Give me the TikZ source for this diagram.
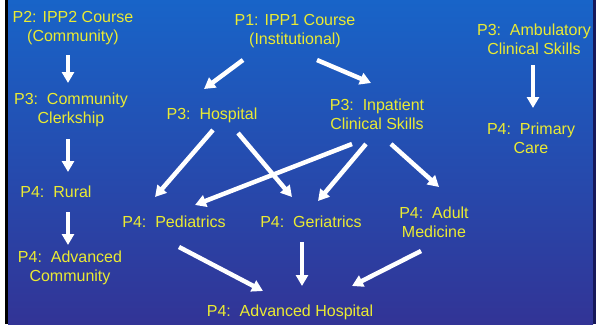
\documentclass[tikz,border=0pt]{standalone}
\usepackage{fontspec}
\setmainfont{Liberation Sans}
\usetikzlibrary{arrows.meta}
\definecolor{bgtop}{RGB}{24,100,200}
\definecolor{bgbot}{RGB}{50,52,150}
\definecolor{bgdark}{RGB}{22,24,90}
\definecolor{lbl}{RGB}{235,235,50}
\begin{document}
\begin{tikzpicture}[x=1pt,y=-1pt,
  lab/.style={text=lbl,font=\fontsize{16}{19}\selectfont,align=center,inner sep=0pt,anchor=base},
  arr/.style={white,line width=4.5pt,-{Triangle[width=12pt,length=11pt]}}]
\useasboundingbox (0,0) rectangle (596,324);
% frame and background
\fill[white] (0,0) rectangle (5,324);
\fill[black] (5,0) rectangle (8,324);
\shade[top color=bgtop,bottom color=bgbot] (8,0) rectangle (593,324);
\fill[bgdark] (593,0) rectangle (596,324);
% labels (two-line labels: base = last line)
\node[lab] (p2)   at (73,41)  {P2: IPP2 Course\\(Community)};
\node[lab] (cc)   at (71,123) {P3:~~Community\\Clerkship};
\node[lab] (rur)  at (56,197) {P4:~~Rural};
\node[lab] (ac)   at (70,281) {P4:~~Advanced\\Community};
\node[lab] (p1)   at (295,44) {P1: IPP1 Course\\(Institutional)};
\node[lab] (hosp) at (212,119) {P3:~~Hospital};
\node[lab] (inp)  at (377,129) {P3:~~Inpatient\\Clinical Skills};
\node[lab] (amb)  at (534,54) {P3:~~Ambulatory\\Clinical Skills};
\node[lab] (prim) at (531,153) {P4:~~Primary\\Care};
\node[lab] (ped)  at (174,227) {P4:~~Pediatrics};
\node[lab] (ger)  at (311,227) {P4:~~Geriatrics};
\node[lab] (adu)  at (434,237) {P4:~~Adult\\Medicine};
\node[lab] (ah)   at (290,316) {P4:~~Advanced Hospital};
% connector ends
\coordinate (p2-o)   at (68,55);   \coordinate (cc-i)  at (68,83);
\coordinate (cc-o)   at (68,139);  \coordinate (rur-i) at (68,172);
\coordinate (rur-o)  at (68,212);  \coordinate (ac-i)  at (68,245);
\coordinate (p1-o1)  at (243,60);  \coordinate (hosp-i) at (204,89);
\coordinate (p1-o2)  at (317,60);  \coordinate (inp-i)  at (371,83);
\coordinate (amb-o)  at (533,65);  \coordinate (prim-i) at (533,108);
\coordinate (hosp-o1) at (213,130); \coordinate (ped-i1) at (155,197);
\coordinate (hosp-o2) at (238,133); \coordinate (ger-i1) at (292,197);
\coordinate (inp-o1) at (352,144); \coordinate (ped-i2) at (195,205);
\coordinate (inp-o2) at (366,144); \coordinate (ger-i2) at (318,201);
\coordinate (inp-o3) at (391,144); \coordinate (adu-i)  at (439,187);
\coordinate (ped-o)  at (179,247); \coordinate (ah-i1)  at (263,291);
\coordinate (ger-o)  at (302,242); \coordinate (ah-i2)  at (302,286);
\coordinate (adu-o)  at (421,251); \coordinate (ah-i3)  at (352,286);
% connectors
\draw[arr] (p2-o) -- (cc-i);
\draw[arr] (cc-o) -- (rur-i);
\draw[arr] (rur-o) -- (ac-i);
\draw[arr] (p1-o1) -- (hosp-i);
\draw[arr] (p1-o2) -- (inp-i);
\draw[arr] (amb-o) -- (prim-i);
\draw[arr] (hosp-o1) -- (ped-i1);
\draw[arr] (hosp-o2) -- (ger-i1);
\draw[arr] (inp-o1) -- (ped-i2);
\draw[arr] (inp-o2) -- (ger-i2);
\draw[arr] (inp-o3) -- (adu-i);
\draw[arr] (ped-o) -- (ah-i1);
\draw[arr] (ger-o) -- (ah-i2);
\draw[arr] (adu-o) -- (ah-i3);
\end{tikzpicture}
\end{document}
